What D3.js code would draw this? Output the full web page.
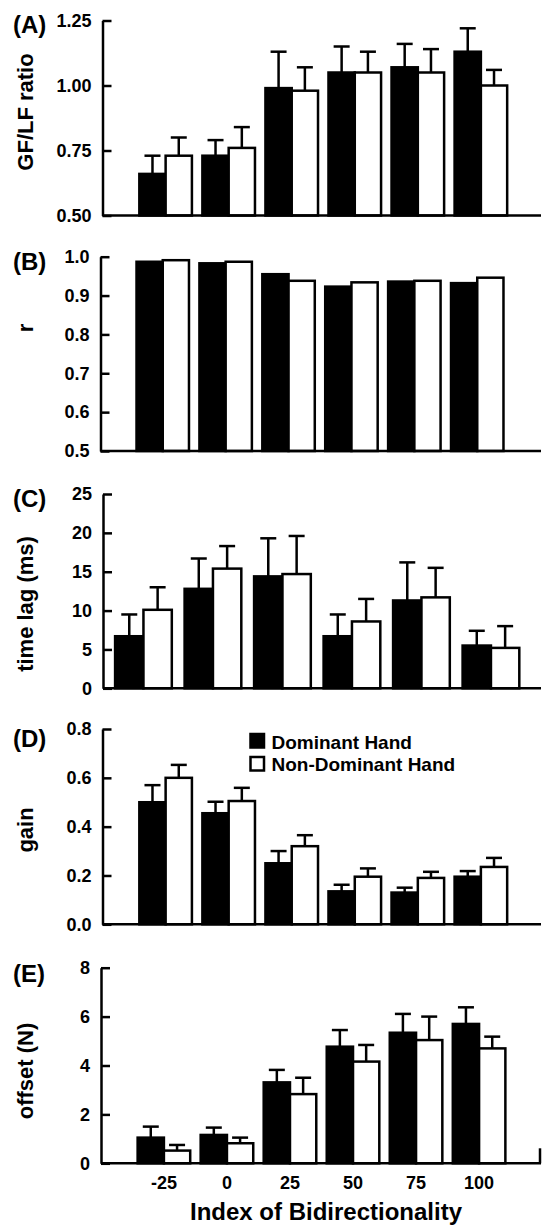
<!DOCTYPE html>
<html lang="en">
<head>
<meta charset="utf-8">
<title>Index of Bidirectionality</title>
<script src="https://cdn.jsdelivr.net/npm/d3@7"></script>
<style>
  body { margin: 0; background: #fff; }
  svg text { font-family: "Liberation Sans", Arial, sans-serif; font-weight: bold; fill: #000; }
</style>
</head>
<body>
<script>
// index of bidirectionality
var categories = ["-25", "0", "25", "50", "75", "100"];
var legendLabels = ["Dominant Hand", "Non-Dominant Hand"];

// (A) GF/LF ratio
var ratioDom    = [0.66, 0.73, 0.99, 1.05, 1.07, 1.13];
var ratioDomErr = [0.07, 0.06, 0.14, 0.10, 0.09, 0.09];
var ratioNon    = [0.73, 0.76, 0.98, 1.05, 1.05, 1.00];
var ratioNonErr = [0.07, 0.08, 0.09, 0.08, 0.09, 0.06];
var ratioTicks  = [0.50, 0.75, 1.00, 1.25];

// (B) r
var rDom   = [0.987, 0.983, 0.955, 0.923, 0.936, 0.932];
var rNon   = [0.991, 0.987, 0.938, 0.934, 0.938, 0.946];
var rTicks = [0.5, 0.6, 0.7, 0.8, 0.9, 1.0];

// (C) time lag (ms)
var lagDom    = [6.7, 12.8, 14.4, 6.7, 11.3, 5.5];
var lagDomErr = [2.8, 3.9, 4.9, 2.8, 4.9, 1.9];
var lagNon    = [10.1, 15.4, 14.7, 8.6, 11.7, 5.2];
var lagNonErr = [2.9, 2.9, 4.9, 2.9, 3.8, 2.8];
var lagTicks  = [0, 5, 10, 15, 20, 25];

// (D) gain
var gainDom    = [0.50, 0.455, 0.25, 0.135, 0.13, 0.195];
var gainDomErr = [0.07, 0.047, 0.05, 0.027, 0.02, 0.023];
var gainNon    = [0.60, 0.505, 0.32, 0.195, 0.19, 0.235];
var gainNonErr = [0.053, 0.054, 0.045, 0.034, 0.025, 0.037];
var gainTicks  = [0.0, 0.2, 0.4, 0.6, 0.8];

// (E) offset (N)
var offDom    = [1.05, 1.16, 3.31, 4.77, 5.34, 5.70];
var offDomErr = [0.45, 0.30, 0.51, 0.68, 0.77, 0.68];
var offNon    = [0.52, 0.82, 2.83, 4.16, 5.04, 4.70];
var offNonErr = [0.23, 0.23, 0.67, 0.68, 0.96, 0.48];
var offTicks  = [0, 2, 4, 6, 8];

var svgWidth = 542;
var svgHeight = 1227;
var lineW = 2.5;

var svg = d3.select("body")
    .append("svg")
    .attr("width", svgWidth)
    .attr("height", svgHeight);

svg.append("rect")
    .attr("width", svgWidth)
    .attr("height", svgHeight)
    .attr("fill", "#fff");

// one entry per panel: layout only, the values come from the arrays above
var panels = [
    {tag: "(A)", title: "GF/LF ratio", dom: ratioDom, domErr: ratioDomErr, non: ratioNon, nonErr: ratioNonErr,
     ticks: ratioTicks, fmt: ".2f", yRange: [215.5, 20.5], axisX: 102.5, xRange: [134.1, 512.4], pad: 0.166,
     tagY: 33, titleY: 112},
    {tag: "(B)", title: "r", dom: rDom, non: rNon,
     ticks: rTicks, fmt: ".1f", yRange: [451, 256.7], axisX: 100.5, xRange: [131.3, 508.7], pad: 0.166,
     tagY: 270, titleY: 328},
    {tag: "(C)", title: "time lag (ms)", dom: lagDom, domErr: lagDomErr, non: lagNon, nonErr: lagNonErr,
     ticks: lagTicks, fmt: "d", yRange: [688.3, 494], axisX: 103, xRange: [108.7, 525.7], pad: 0.184,
     tagY: 507, titleY: 604},
    {tag: "(D)", title: "gain", dom: gainDom, domErr: gainDomErr, non: gainNon, nonErr: gainNonErr,
     ticks: gainTicks, fmt: ".1f", yRange: [924.3, 729], axisX: 102.5, xRange: [134.1, 512.4], pad: 0.166,
     tagY: 747, titleY: 830, legend: true},
    {tag: "(E)", title: "offset (N)", dom: offDom, domErr: offDomErr, non: offNon, nonErr: offNonErr,
     ticks: offTicks, fmt: "d", yRange: [1163.3, 967.7], axisX: 101, xRange: [132.4, 510.6], pad: 0.166,
     tagY: 982, titleY: 1071, xLabels: true}
];

panels.forEach(function(p) {
    var yScale = d3.scaleLinear()
        .domain([p.ticks[0], p.ticks[p.ticks.length - 1]])
        .range(p.yRange);

    var xScale = d3.scaleBand()
        .domain(categories)
        .range(p.xRange)
        .paddingInner(p.pad)
        .paddingOuter(p.pad / 2);

    var half = xScale.bandwidth() / 2;
    var base = yScale(p.ticks[0]);
    var g = svg.append("g");

    //bars: dominant (black) then non-dominant (white)
    var series = [
        {vals: p.dom, err: p.domErr, fill: "#000", off: 0},
        {vals: p.non, err: p.nonErr, fill: "#fff", off: half}
    ];

    series.forEach(function(s) {
        g.selectAll(null)
            .data(s.vals)
            .enter()
            .append("rect")
            .attr("x", function(d, i) { return xScale(categories[i]) + s.off; })
            .attr("y", function(d) { return yScale(d); })
            .attr("width", half)
            .attr("height", function(d) { return base - yScale(d); })
            .attr("fill", s.fill)
            .attr("stroke", "#000")
            .attr("stroke-width", lineW);
    });

    //error bars (upper only)
    series.forEach(function(s) {
        if (!s.err) return;
        var eb = g.selectAll(null)
            .data(s.vals)
            .enter()
            .append("g");
        eb.append("line")
            .attr("x1", function(d, i) { return xScale(categories[i]) + s.off + half / 2; })
            .attr("x2", function(d, i) { return xScale(categories[i]) + s.off + half / 2; })
            .attr("y1", function(d) { return yScale(d); })
            .attr("y2", function(d, i) { return yScale(d + s.err[i]); })
            .attr("stroke", "#000")
            .attr("stroke-width", lineW);
        eb.append("line")
            .attr("x1", function(d, i) { return xScale(categories[i]) + s.off + half / 2 - 8; })
            .attr("x2", function(d, i) { return xScale(categories[i]) + s.off + half / 2 + 8; })
            .attr("y1", function(d, i) { return yScale(d + s.err[i]); })
            .attr("y2", function(d, i) { return yScale(d + s.err[i]); })
            .attr("stroke", "#000")
            .attr("stroke-width", lineW);
    });

    //y axis, ticks pointing inwards
    var yAxis = d3.axisLeft(yScale)
        .tickValues(p.ticks)
        .tickFormat(d3.format(p.fmt))
        .tickSizeInner(-9)
        .tickSizeOuter(0)
        .tickPadding(11);

    var Y = svg.append("g")
        .attr("transform", "translate(" + p.axisX + ",0)")
        .call(yAxis);
    Y.selectAll("path, line").attr("stroke", "#000").attr("stroke-width", lineW);
    Y.selectAll("text")
        .attr("font-size", "18px")
        .attr("font-family", "'Liberation Sans', Arial, sans-serif")
        .attr("font-weight", "bold");

    //x axis line
    svg.append("line")
        .attr("x1", p.axisX)
        .attr("x2", 541)
        .attr("y1", base)
        .attr("y2", base)
        .attr("stroke", "#000")
        .attr("stroke-width", lineW);

    if (p.xLabels) {
        var xAxis = d3.axisBottom(xScale)
            .tickSize(0)
            .tickPadding(13);
        var X = svg.append("g")
            .attr("transform", "translate(0," + base + ")")
            .call(xAxis);
        X.select(".domain").remove();
        X.selectAll("text")
            .attr("font-size", "18px")
            .attr("font-family", "'Liberation Sans', Arial, sans-serif")
            .attr("font-weight", "bold");

        svg.append("line")
            .attr("x1", 540).attr("x2", 540)
            .attr("y1", base).attr("y2", base - 15)
            .attr("stroke", "#000")
            .attr("stroke-width", lineW);

        svg.append("text")
            .attr("x", 326)
            .attr("y", 1220)
            .attr("font-size", "24px")
            .attr("text-anchor", "middle")
            .text("Index of Bidirectionality");
    }

    //panel tag and y title
    svg.append("text")
        .attr("x", 13)
        .attr("y", p.tagY)
        .attr("font-size", "24px")
        .text(p.tag);

    svg.append("text")
        .attr("transform", "translate(33," + p.titleY + ") rotate(-90)")
        .attr("font-size", "22px")
        .attr("text-anchor", "middle")
        .text(p.title);

    if (p.legend) {
        var lg = svg.append("g");
        legendLabels.forEach(function(lab, i) {
            lg.append("rect")
                .attr("x", 250.5)
                .attr("y", 734 + i * 23)
                .attr("width", 13.5)
                .attr("height", 13.5)
                .attr("fill", i === 0 ? "#000" : "#fff")
                .attr("stroke", "#000")
                .attr("stroke-width", lineW);
            lg.append("text")
                .attr("x", 271.5)
                .attr("y", 748.5 + i * 22)
                .attr("font-size", "19px")
                .text(lab);
        });
    }
});
</script>
</body>
</html>
